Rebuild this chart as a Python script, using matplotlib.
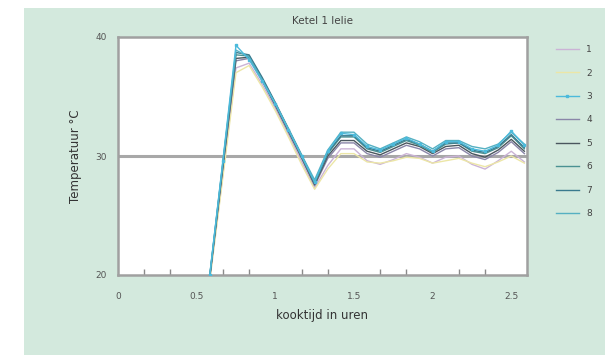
import matplotlib
matplotlib.use("Agg")
import matplotlib.pyplot as plt
from matplotlib.patches import Rectangle

# kooktijd in minuten (elke 5 minuten)
minutes = [0, 5, 10, 15, 20, 25, 30, 35, 40, 45, 50, 55, 60, 65, 70, 75,
           80, 85, 90, 95, 100, 105, 110, 115, 120, 125, 130, 135, 140, 145, 150, 155]

# temperatuur per meetpunt (°C), eerste punten liggen onder de as
start = [18.0, 18.2, 18.4, 18.6, 18.8, 19.0, 19.2]
s1 = start + [19.6, 28.5, 37.4, 37.8, 36.0, 34.0, 31.8, 29.5, 27.3, 29.2, 30.6, 30.6,
              29.6, 29.3, 29.7, 30.2, 29.9, 29.4, 29.9, 30.0, 29.3, 28.9, 29.6, 30.4, 29.5]
s2 = start + [19.5, 28.2, 37.0, 37.6, 35.8, 33.8, 31.6, 29.3, 27.2, 28.9, 30.2, 30.2,
              29.5, 29.4, 29.6, 29.9, 29.8, 29.4, 29.6, 29.8, 29.4, 29.1, 29.5, 30.0, 29.4]
s3 = start + [20.0, 29.6, 39.3, 38.1, 36.3, 34.4, 32.2, 30.0, 27.8, 30.4, 31.9, 31.8,
              30.8, 30.5, 31.0, 31.5, 31.0, 30.4, 31.2, 31.2, 30.6, 30.4, 30.9, 32.1, 30.9]
s4 = start + [19.8, 29.0, 38.0, 38.2, 36.3, 34.2, 32.0, 29.8, 27.5, 29.8, 31.1, 31.1,
              30.2, 29.9, 30.4, 30.9, 30.6, 30.0, 30.6, 30.7, 30.0, 29.7, 30.3, 31.2, 30.2]
s5 = start + [19.8, 29.1, 38.2, 38.3, 36.4, 34.3, 32.1, 29.9, 27.6, 30.0, 31.3, 31.3,
              30.4, 30.1, 30.6, 31.1, 30.8, 30.2, 30.8, 30.9, 30.2, 29.9, 30.5, 31.4, 30.4]
s6 = start + [19.9, 29.3, 38.5, 38.4, 36.5, 34.4, 32.2, 30.0, 27.7, 30.2, 31.6, 31.6,
              30.6, 30.3, 30.8, 31.3, 30.9, 30.3, 31.0, 31.1, 30.4, 30.2, 30.7, 31.7, 30.6]
s7 = start + [19.9, 29.4, 38.7, 38.5, 36.6, 34.5, 32.3, 30.1, 27.8, 30.3, 31.7, 31.7,
              30.7, 30.4, 30.9, 31.4, 31.0, 30.4, 31.1, 31.1, 30.5, 30.3, 30.8, 31.8, 30.7]
s8 = start + [20.0, 29.5, 38.9, 38.3, 36.4, 34.4, 32.3, 30.1, 28.0, 30.5, 32.0, 32.0,
              31.0, 30.6, 31.1, 31.6, 31.2, 30.6, 31.3, 31.3, 30.8, 30.6, 31.0, 32.0, 31.0]

series = [s1, s2, s3, s4, s5, s6, s7, s8]
labels = ["1", "2", "3", "4", "5", "6", "7", "8"]
colors = ["#cbb3d6", "#ece6a6", "#4cbadb", "#8a86a8", "#4a565e",
          "#4a9292", "#3a7a8e", "#55b0c2"]

hours = [m / 60 for m in minutes]

fig = plt.figure(figsize=(6.05, 3.55), dpi=100)
fig.patch.set_facecolor("white")
fig.patches.append(Rectangle((24 / 605, 0), 1 - 24 / 605, 1 - 8 / 355,
                             transform=fig.transFigure, facecolor="#d3e9dd",
                             edgecolor="none", zorder=-10))

ax = fig.add_axes([118 / 605, 1 - 275 / 355, (527 - 118) / 605, (275 - 37) / 355])
ax.set_facecolor("white")

ax.axhline(30, color="#a8a8a8", lw=2.2, zorder=1)

for vals, lab, col in zip(series, labels, colors):
    if lab == "3":
        ax.plot(hours, vals, color=col, lw=1.0, marker="s", ms=1.8,
                label=lab, zorder=3)
    else:
        ax.plot(hours, vals, color=col, lw=1.0, label=lab, zorder=2)

ax.set_xlim(0, 2.6)
ax.set_ylim(20, 40)
ax.set_yticks([20, 30, 40])
ax.set_xticks([0, 0.5, 1, 1.5, 2, 2.5])
ax.set_xticklabels(["0", "0.5", "1", "1.5", "2", "2.5"])
ax.set_xticks([i / 6 for i in range(16)], minor=True)
ax.tick_params(axis="both", labelsize=6.5, colors="#555555", length=0, pad=8)
ax.tick_params(axis="x", which="minor", length=4, width=1, direction="in",
               color="#8a8a8a")
ax.tick_params(axis="x", which="major", pad=12)

for sp in ax.spines.values():
    sp.set_color("#a0a0a0")
    sp.set_linewidth(1.8)

ax.set_title("Ketel 1 lelie", fontsize=7.5, color="#444444", pad=9)
ax.set_xlabel("kooktijd in uren", fontsize=8.5, color="#333333", labelpad=6)
ax.set_ylabel("Temperatuur °C", fontsize=8.5, color="#333333", labelpad=10)

leg = ax.legend(loc="upper left", bbox_to_anchor=(1.05, 1.0), frameon=False,
                fontsize=6.5, handlelength=2.6, labelspacing=1.6,
                handletextpad=0.8, markerfirst=True)
for t in leg.get_texts():
    t.set_color("#444444")

fig.savefig("out.png", dpi=100, facecolor=fig.get_facecolor())
